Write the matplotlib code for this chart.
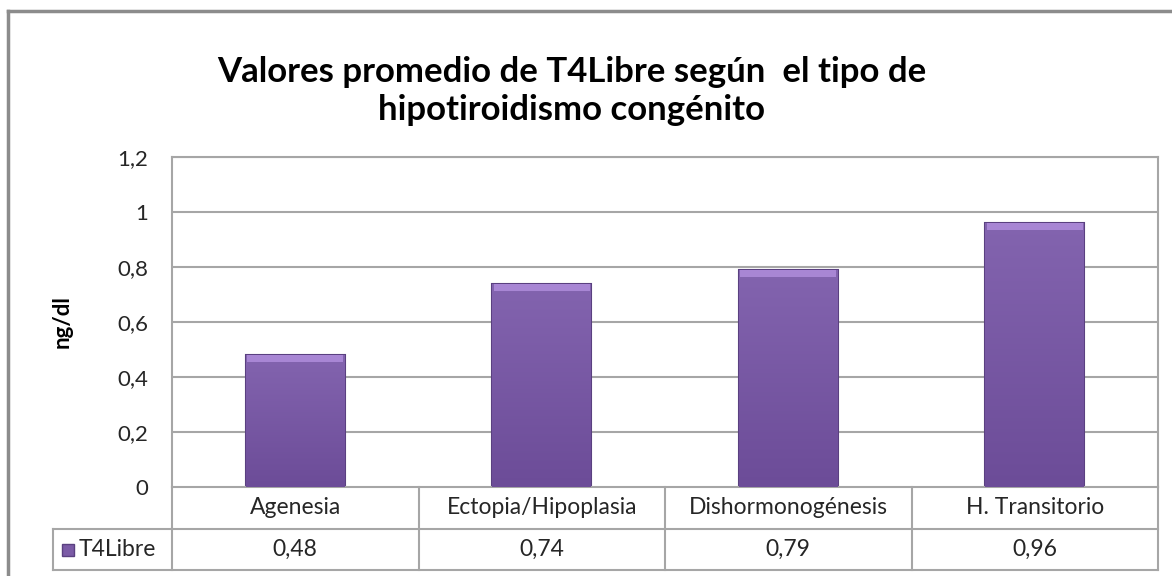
import matplotlib
matplotlib.use("Agg")
import numpy as np
import matplotlib.pyplot as plt
from matplotlib.lines import Line2D
from matplotlib.colors import LinearSegmentedColormap

plt.rcParams['font.family'] = ['Lato', 'DejaVu Sans']

# Data
categories = ["Agenesia", "Ectopia/Hipoplasia", "Dishormonogénesis", "H. Transitorio"]
values = [0.48, 0.74, 0.79, 0.96]
value_labels = ["0,48", "0,74", "0,79", "0,96"]
series_name = "T4Libre"
yticks = [0, 0.2, 0.4, 0.6, 0.8, 1.0, 1.2]
ytick_labels = ["0", "0,2", "0,4", "0,6", "0,8", "1", "1,2"]

W, H = 1172, 576
fig = plt.figure(figsize=(W / 100, H / 100), dpi=100)

# plot area in pixel coordinates of the reference
left_px, right_px, top_px, bottom_px = 172, 1158, 157, 487
ax = fig.add_axes([left_px / W, 1 - bottom_px / H,
                   (right_px - left_px) / W, (bottom_px - top_px) / H])

grid_col = "#A6A6A6"
bar_col = "#7B5BA6"
edge_col = "#5A4080"
top_col = "#A886D4"
txt_col = "#262626"
grad = LinearSegmentedColormap.from_list("barg", ["#6C4C98", "#8364AF"])

ax.set_xlim(-0.5, len(categories) - 0.5)
ax.set_ylim(0, 1.2)
ax.set_yticks(yticks)
ax.set_yticklabels(ytick_labels, fontsize=16, color=txt_col)
ax.tick_params(axis="y", length=0, pad=17)
ax.set_xticks([])
for y in yticks[1:]:
    ax.axhline(y, color=grid_col, lw=1.5, zorder=0)
for s in ["left", "top", "right"]:
    ax.spines[s].set_color(grid_col)
    ax.spines[s].set_linewidth(1.5)
ax.spines["bottom"].set_visible(False)

x = list(range(len(categories)))
# body with a vertical gradient, then bevel on top of each bar
bars = ax.bar(x, values, width=0.4, color=bar_col, edgecolor=edge_col, linewidth=1.5, zorder=2)
g = np.linspace(0, 1, 256).reshape(-1, 1)
for b in bars:
    bx, bw, bh = b.get_x(), b.get_width(), b.get_height()
    im = ax.imshow(g, cmap=grad, extent=[bx, bx + bw, 0, bh], origin="lower",
                   aspect="auto", zorder=2.1, interpolation="bilinear")
    im.set_clip_path(b)
bevel = 0.026
ax.bar(x, [bevel] * len(values), bottom=[v - bevel for v in values], width=0.39,
       color=top_col, linewidth=0, zorder=3)
ax.set_xlim(-0.5, len(categories) - 0.5)
ax.set_ylim(0, 1.2)

ax.set_ylabel("ng/dl", fontsize=16, fontweight="bold", labelpad=32)

# data table below the plot
row1 = -(529 - bottom_px) / (bottom_px - top_px)
row2 = -(570 - bottom_px) / (bottom_px - top_px)
leg_left = (53 - left_px) / (right_px - left_px)
tr = ax.get_xaxis_transform()
line_kw = dict(color=grid_col, lw=1.5, clip_on=False)
n = len(categories)
ax.add_line(Line2D([-0.5, n - 0.5], [0, 0], transform=tr, **line_kw))
ax.add_line(Line2D([0, 1], [row1, row1], transform=ax.transAxes, **line_kw))
ax.add_line(Line2D([leg_left, 0], [row1, row1], transform=ax.transAxes, **line_kw))
ax.add_line(Line2D([leg_left, 1], [row2, row2], transform=ax.transAxes, **line_kw))
ax.add_line(Line2D([leg_left, leg_left], [row1, row2], transform=ax.transAxes, **line_kw))
for i in range(n + 1):
    ax.add_line(Line2D([i - 0.5, i - 0.5], [0, row2], transform=tr, **line_kw))
for i, (c, lab) in enumerate(zip(categories, value_labels)):
    ax.text(i, row1 / 2, c, transform=tr, ha="center", va="center",
            fontsize=16.5, color=txt_col)
    ax.text(i, (row1 + row2) / 2, lab, transform=tr, ha="center", va="center",
            fontsize=16.5, color=txt_col)
ax.plot([(68 - left_px) / (right_px - left_px)], [(row1 + row2) / 2], marker="s",
        ms=9, color=bar_col, mec=edge_col, transform=ax.transAxes, clip_on=False)
ax.text((79 - left_px) / (right_px - left_px), (row1 + row2) / 2, series_name,
        transform=ax.transAxes, ha="left", va="center", fontsize=16.5, color=txt_col)

# title
fig.text(572 / W, 1 - 91 / H, "Valores promedio de T4Libre según  el tipo de\nhipotiroidismo congénito",
         ha="center", va="center", fontsize=25, fontweight="bold", linespacing=1.2)

# outer frame (left and top edges visible)
fig.add_artist(Line2D([8 / W, 8 / W], [0, 1 - 11 / H], color="#8C8C8C", lw=2.5,
                      transform=fig.transFigure))
fig.add_artist(Line2D([8 / W, 1], [1 - 11 / H, 1 - 11 / H], color="#8C8C8C", lw=2.5,
                      transform=fig.transFigure))

fig.savefig("out.png", dpi=100, facecolor="white")
